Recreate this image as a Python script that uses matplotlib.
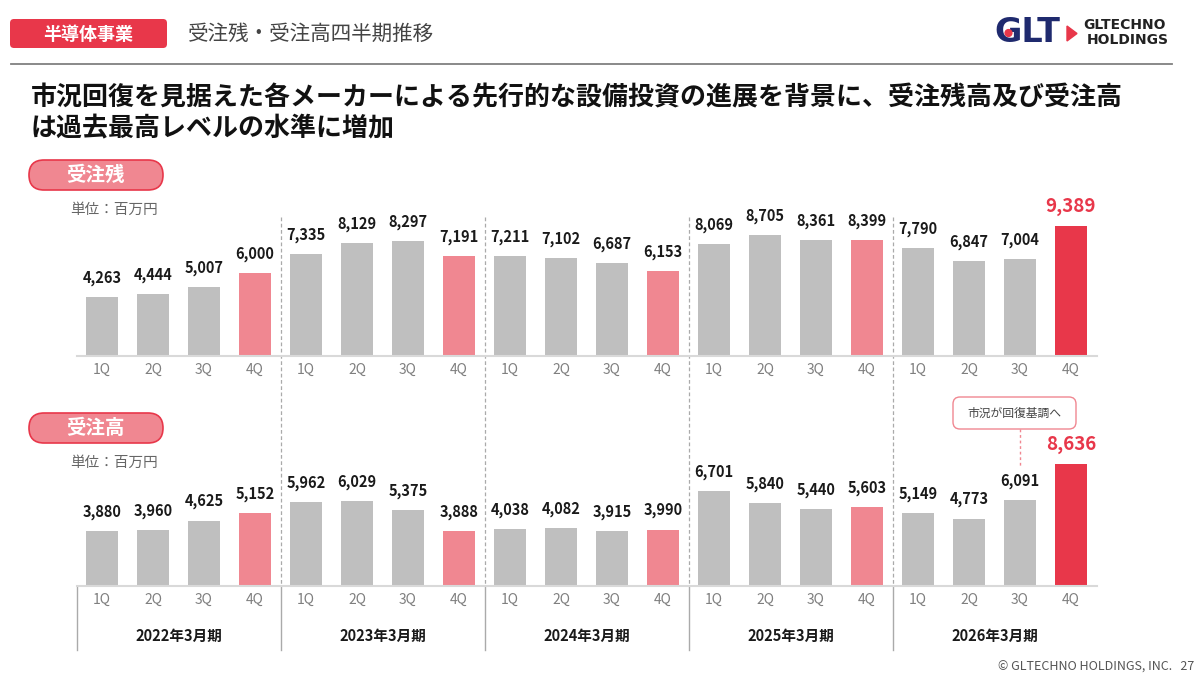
import matplotlib
matplotlib.use("Agg")
import matplotlib.pyplot as plt
from matplotlib.patches import FancyBboxPatch, Polygon, Circle
from matplotlib.lines import Line2D
import matplotlib.transforms as mtrans

plt.rcParams['font.family'] = ['Noto Sans CJK JP', 'DejaVu Sans']

# ---------------- data ----------------
periods = ['2022年3月期', '2023年3月期', '2024年3月期', '2025年3月期', '2026年3月期']
quarters = ['1Q', '2Q', '3Q', '4Q']
backlog = [4263, 4444, 5007, 6000,
           7335, 8129, 8297, 7191,
           7211, 7102, 6687, 6153,
           8069, 8705, 8361, 8399,
           7790, 6847, 7004, 9389]
orders = [3880, 3960, 4625, 5152,
          5962, 6029, 5375, 3888,
          4038, 4082, 3915, 3990,
          6701, 5840, 5440, 5603,
          5149, 4773, 6091, 8636]
title_text = ['市況回復を見据えた各メーカーによる先行的な設備投資の進展を背景に、受注残高及び受注高',
              'は過去最高レベルの水準に増加']
annotation_text = '市況が回復基調へ'

GRAY = '#BFBFBF'
PINK = '#F08791'
RED = '#E8374A'
NAVY = '#1F2A6E'

W, H = 1200, 678
fig = plt.figure(figsize=(W / 100, H / 100), dpi=100)

# background pixel-coordinate axes
bg = fig.add_axes([0, 0, 1, 1], zorder=0)
bg.set_xlim(0, W)
bg.set_ylim(H, 0)
bg.axis('off')

def fx(px):
    return px / W

def fy(py):
    return 1 - py / H

n = len(backlog)
xs = list(range(n))
labels = quarters * len(periods)

def colors_for(vals):
    cols = []
    for i in range(len(vals)):
        if i == len(vals) - 1:
            cols.append(RED)
        elif i % 4 == 3:
            cols.append(PINK)
        else:
            cols.append(GRAY)
    return cols

def make_chart(rect, vals, ymax):
    ax = fig.add_axes(rect, zorder=1)
    ax.patch.set_alpha(0)
    ax.bar(xs, vals, width=0.63, color=colors_for(vals), zorder=2)
    ax.set_xlim(-0.5, n - 0.5)
    ax.set_ylim(0, ymax)
    for s in ['top', 'right', 'left']:
        ax.spines[s].set_visible(False)
    ax.spines['bottom'].set_color('#D9D9D9')
    ax.spines['bottom'].set_linewidth(1.5)
    ax.set_yticks([])
    ax.set_xticks(xs)
    ax.set_xticklabels(labels, fontsize=10, color='#7F7F7F')
    ax.tick_params(axis='x', length=0, pad=5)
    for i, v in enumerate(vals):
        last = (i == n - 1)
        ax.annotate(f'{v:,}', (i, v), xytext=(0, 7 if last else 8),
                    textcoords='offset points', ha='center', va='bottom',
                    fontsize=13.5 if last else 10.5, fontweight='bold',
                    color=RED if last else '#1A1A1A')
    return ax

# top chart: baseline y=356 px, height 150 px
ax1 = make_chart([fx(76.5), fy(356), 1020 / W, 150 / H], backlog, 150 / 0.01385)
# bottom chart: baseline y=586 px, height 140 px
ax2 = make_chart([fx(76.5), fy(586), 1020 / W, 140 / H], orders, 140 / 0.01414)

# separators
tr = mtrans.blended_transform_factory(ax2.transData, fig.transFigure)
for k in range(1, len(periods)):
    xsep = 4 * k - 0.5
    fig.add_artist(Line2D([xsep, xsep], [fy(217), fy(586)], transform=tr,
                          color='#AAAAAA', lw=0.9, ls=(0, (3, 2)), zorder=0.5))
for k in range(0, len(periods)):
    xsep = 4 * k - 0.5
    fig.add_artist(Line2D([xsep, xsep], [fy(586), fy(650)], transform=tr,
                          color='#AAAAAA', lw=1.0, zorder=0.5))

# period labels
for k, p in enumerate(periods):
    fig.text(4 * k + 1.5, fy(636), p, transform=tr, ha='center', va='center',
             fontsize=10.5, fontweight='bold', color='#1A1A1A')

# annotation box with dashed connector to 3Q of last period
fig.add_artist(Line2D([n - 2, n - 2], [fy(429), fy(467)], transform=tr,
                      color=PINK, lw=1.0, ls=(0, (2, 2)), zorder=3))
bg.add_patch(FancyBboxPatch((953, 397), 123, 32, boxstyle='round,pad=0,rounding_size=7',
                            facecolor='white', edgecolor=PINK, lw=1.0))
bg.text(1014.5, 413, annotation_text, ha='center', va='center', fontsize=8.5, color='#444444')

# header
bg.add_patch(FancyBboxPatch((10, 19), 157, 29, boxstyle='round,pad=0,rounding_size=4',
                            facecolor=RED, edgecolor='none'))
bg.text(88.5, 34, '半導体事業', ha='center', va='center', fontsize=13,
        fontweight='bold', color='white')
bg.text(188, 34, '受注残・受注高四半期推移', ha='left', va='center', fontsize=14.8,
        color='#444444')
bg.plot([11, 1172], [64, 64], color='#808080', lw=1.3)

# logo
bg.text(994, 33, 'GLT', ha='left', va='center', fontsize=24, fontweight='heavy',
        color=NAVY, family='DejaVu Sans')
bg.add_patch(Circle((1008.5, 33), 3.4, color=RED, zorder=5))
bg.add_patch(Polygon([[1067, 26], [1067, 41], [1077, 33.5]], closed=True, color=RED))
bg.text(1083, 25, 'GLTECHNO', ha='left', va='center', fontsize=10, fontweight='bold',
        color='#222222', family='DejaVu Sans')
bg.text(1087, 39.5, 'HOLDINGS', ha='left', va='center', fontsize=10, fontweight='bold',
        color='#222222', family='DejaVu Sans')

# title
bg.text(31, 98, title_text[0], ha='left', va='center', fontsize=18.7,
        fontweight='bold', color='#111111')
bg.text(31, 129, title_text[1], ha='left', va='center', fontsize=18.7,
        fontweight='bold', color='#111111')

# section pills
for (y0, label) in [(160, '受注残'), (413, '受注高')]:
    bg.add_patch(FancyBboxPatch((29, y0), 134, 30, boxstyle='round,pad=0,rounding_size=15',
                                facecolor=PINK, edgecolor=RED, lw=1.2))
    bg.text(96, y0 + 15, label, ha='center', va='center', fontsize=14,
            fontweight='bold', color='white')
    bg.text(70, y0 + 50, '単位：百万円', ha='left', va='center', fontsize=10.5,
            color='#666666')

# footer
bg.text(1194, 667, '© GLTECHNO HOLDINGS, INC.   27', ha='right', va='center',
        fontsize=9, color='#555555')

fig.savefig('out.png', dpi=100)
